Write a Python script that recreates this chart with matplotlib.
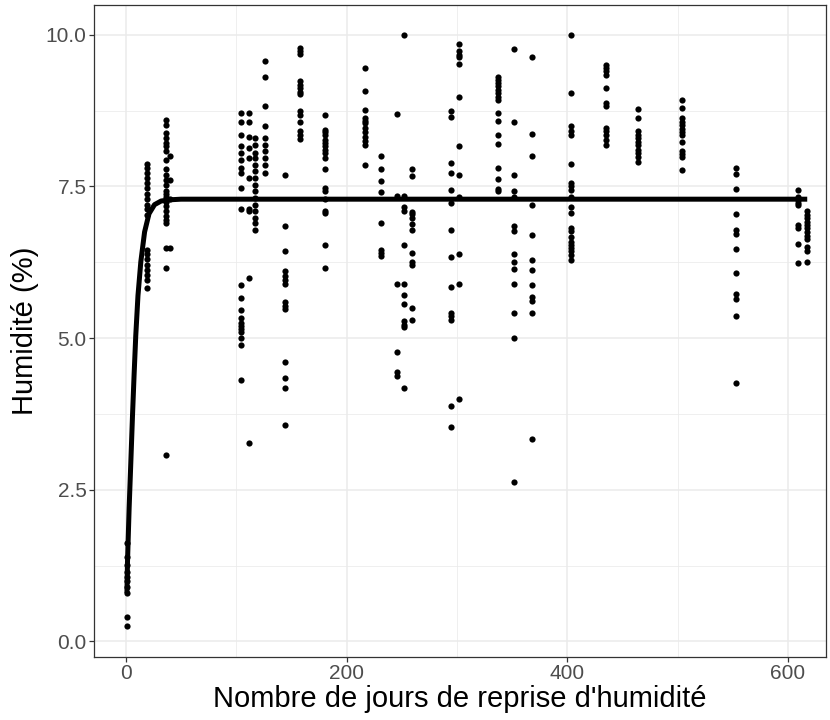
import matplotlib
matplotlib.use("Agg")
import matplotlib.pyplot as plt
from matplotlib.ticker import MultipleLocator

plt.rcParams["font.family"] = ["Liberation Sans", "DejaVu Sans"]

# Observed humidity, one column of measurements per sampling day
days = [1, 1.5, 19, 36, 40, 104, 112, 117, 126, 144.5, 157.8, 180.8, 216.8,
        231.6, 245.5, 252.4, 259.4, 294.8, 302.3, 337, 351.3, 367.9, 403,
        434.7, 464, 504.3, 553.3, 609.2, 617.4]
humidity = [
    [0.8, 0.9, 1.0, 1.07, 1.15, 1.26, 1.4, 1.62],
    [0.25, 0.41],
    [7.87, 7.8, 7.72, 7.64, 7.55, 7.47, 7.38, 7.3, 7.2, 7.12, 7.03,
     6.46, 6.38, 6.3, 6.21, 6.12, 6.04, 5.96, 5.82],
    [8.6, 8.52, 8.38, 8.3, 8.22, 8.16, 8.08, 7.94, 7.79, 7.69, 7.6,
     7.52, 7.43, 7.38, 7.33, 7.24, 7.18, 7.1, 7.02, 6.94, 6.9, 6.48, 6.15, 3.07],
    [8.0, 7.6, 7.3, 6.48],
    [8.71, 8.57, 8.35, 8.16, 8.05, 7.94, 7.8, 7.72, 7.47, 7.12,
     5.88, 5.66, 5.47, 5.33, 5.25, 5.2, 5.15, 5.1, 5.0, 4.89, 4.31],
    [8.71, 8.57, 8.32, 8.13, 7.97, 7.64, 7.12, 7.09, 5.99, 3.27],
    [8.3, 8.19, 8.05, 7.97, 7.86, 7.75, 7.64, 7.53, 7.42, 7.31, 7.2,
     7.09, 6.98, 6.9, 6.79],
    [9.56, 9.3, 8.83, 8.49, 8.3, 8.19, 8.08, 7.97, 7.85, 7.72],
    [7.69, 6.85, 6.44, 6.1, 6.03, 5.96, 5.89, 5.59, 5.53, 5.48,
     4.6, 4.35, 4.17, 3.57],
    [9.79, 9.73, 9.68, 9.24, 9.17, 9.12, 9.06, 9.02, 8.75, 8.68, 8.57,
     8.41, 8.35, 8.29],
    [8.68, 8.43, 8.4, 8.35, 8.27, 8.21, 8.16, 8.1, 8.05, 7.97, 7.79,
     7.47, 7.43, 7.29, 7.09, 7.06, 6.54, 6.15],
    [9.45, 9.08, 8.76, 8.62, 8.58, 8.54, 8.46, 8.39, 8.32, 8.25, 8.19, 7.86],
    [8.0, 7.79, 7.59, 7.41, 6.9, 6.45, 6.4, 6.36],
    [8.69, 7.35, 5.89, 4.77, 4.44, 4.37],
    [9.99, 7.34, 7.16, 7.09, 6.53, 5.89, 5.71, 5.57, 5.29, 5.22, 5.18, 4.17],
    [7.79, 7.68, 7.08, 7.04, 6.98, 6.88, 6.78, 6.41, 6.26, 6.2, 5.49, 5.3],
    [8.75, 8.65, 7.89, 7.72, 7.44, 7.22, 6.78, 6.34, 5.85, 5.41, 5.36,
     5.3, 3.88, 3.53],
    [9.84, 9.73, 9.67, 9.63, 9.52, 8.97, 8.17, 7.69, 7.32, 6.38, 5.89, 4.0],
    [9.31, 9.26, 9.2, 9.15, 9.09, 9.04, 8.98, 8.92, 8.71, 8.58, 8.35,
     8.2, 7.8, 7.63, 7.45, 7.42],
    [9.76, 8.57, 7.69, 7.42, 7.32, 6.84, 6.76, 6.38, 6.25, 6.14, 5.89,
     5.42, 5.0, 2.63],
    [9.63, 8.37, 8.0, 7.2, 6.7, 6.28, 6.12, 5.87, 5.67, 5.61, 5.42, 3.34],
    [9.99, 9.04, 8.49, 8.41, 8.34, 7.87, 7.55, 7.5, 7.44, 7.32, 7.16,
     7.06, 6.82, 6.76, 6.67, 6.59, 6.54, 6.48, 6.43, 6.37, 6.28],
    [9.5, 9.45, 9.4, 9.33, 9.13, 8.87, 8.82, 8.46, 8.41, 8.34, 8.27, 8.19],
    [8.78, 8.63, 8.41, 8.35, 8.3, 8.24, 8.19, 8.1, 8.05, 7.99, 7.9],
    [8.93, 8.8, 8.63, 8.56, 8.51, 8.45, 8.4, 8.34, 8.23, 8.09, 8.03,
     7.98, 7.77],
    [7.81, 7.7, 7.46, 7.04, 6.78, 6.71, 6.47, 6.07, 5.72, 5.65, 5.36, 4.26],
    [7.44, 7.33, 7.28, 7.22, 7.2, 6.86, 6.81, 6.55, 6.23],
    [7.09, 7.03, 6.98, 6.92, 6.86, 6.81, 6.75, 6.69, 6.64, 6.51, 6.43, 6.25],
]

# Fitted curve
fit_days = [1, 1.5, 3, 4.5, 6, 7.5, 9, 11, 13.6, 17, 21, 26, 32, 40, 50,
            100, 300, 617.4]
fit_hum = [0.8, 1.3, 2.2, 2.94, 3.7, 4.4, 5.04, 5.7, 6.26, 6.75, 7.05,
           7.2, 7.26, 7.28, 7.29, 7.29, 7.29, 7.29]

fig = plt.figure(figsize=(8.3, 7.2), dpi=100)
ax = fig.add_axes([0.1133, 0.088, 0.882, 0.905])

xs, ys = [], []
for d, col in zip(days, humidity):
    xs += [d] * len(col)
    ys += col
ax.scatter(xs, ys, s=20, color="black", linewidths=0, zorder=3)
ax.plot(fit_days, fit_hum, color="black", linewidth=3.6,
        solid_capstyle="butt", zorder=4)

ax.set_xlim(-28.8, 634.5)
ax.set_ylim(-0.25, 10.49)
ax.xaxis.set_major_locator(MultipleLocator(200))
ax.xaxis.set_minor_locator(MultipleLocator(100))
ax.yaxis.set_major_locator(MultipleLocator(2.5))
ax.yaxis.set_minor_locator(MultipleLocator(1.25))
ax.yaxis.set_major_formatter(matplotlib.ticker.FormatStrFormatter("%.1f"))

ax.grid(which="major", color="#EBEBEB", linewidth=1.1, zorder=0)
ax.grid(which="minor", color="#EBEBEB", linewidth=0.55, zorder=0)
ax.set_axisbelow(True)
for sp in ax.spines.values():
    sp.set_color("#333333")
    sp.set_linewidth(0.9)

ax.tick_params(which="major", length=3.5, width=0.9, color="#333333",
               labelsize=15, labelcolor="#4D4D4D", pad=2)
ax.tick_params(which="minor", length=0)

ax.set_xlabel("Nombre de jours de reprise d'humidité", fontsize=21, labelpad=1)
ax.set_ylabel("Humidité (%)", fontsize=21, labelpad=5)

fig.savefig("out.png", dpi=100)
